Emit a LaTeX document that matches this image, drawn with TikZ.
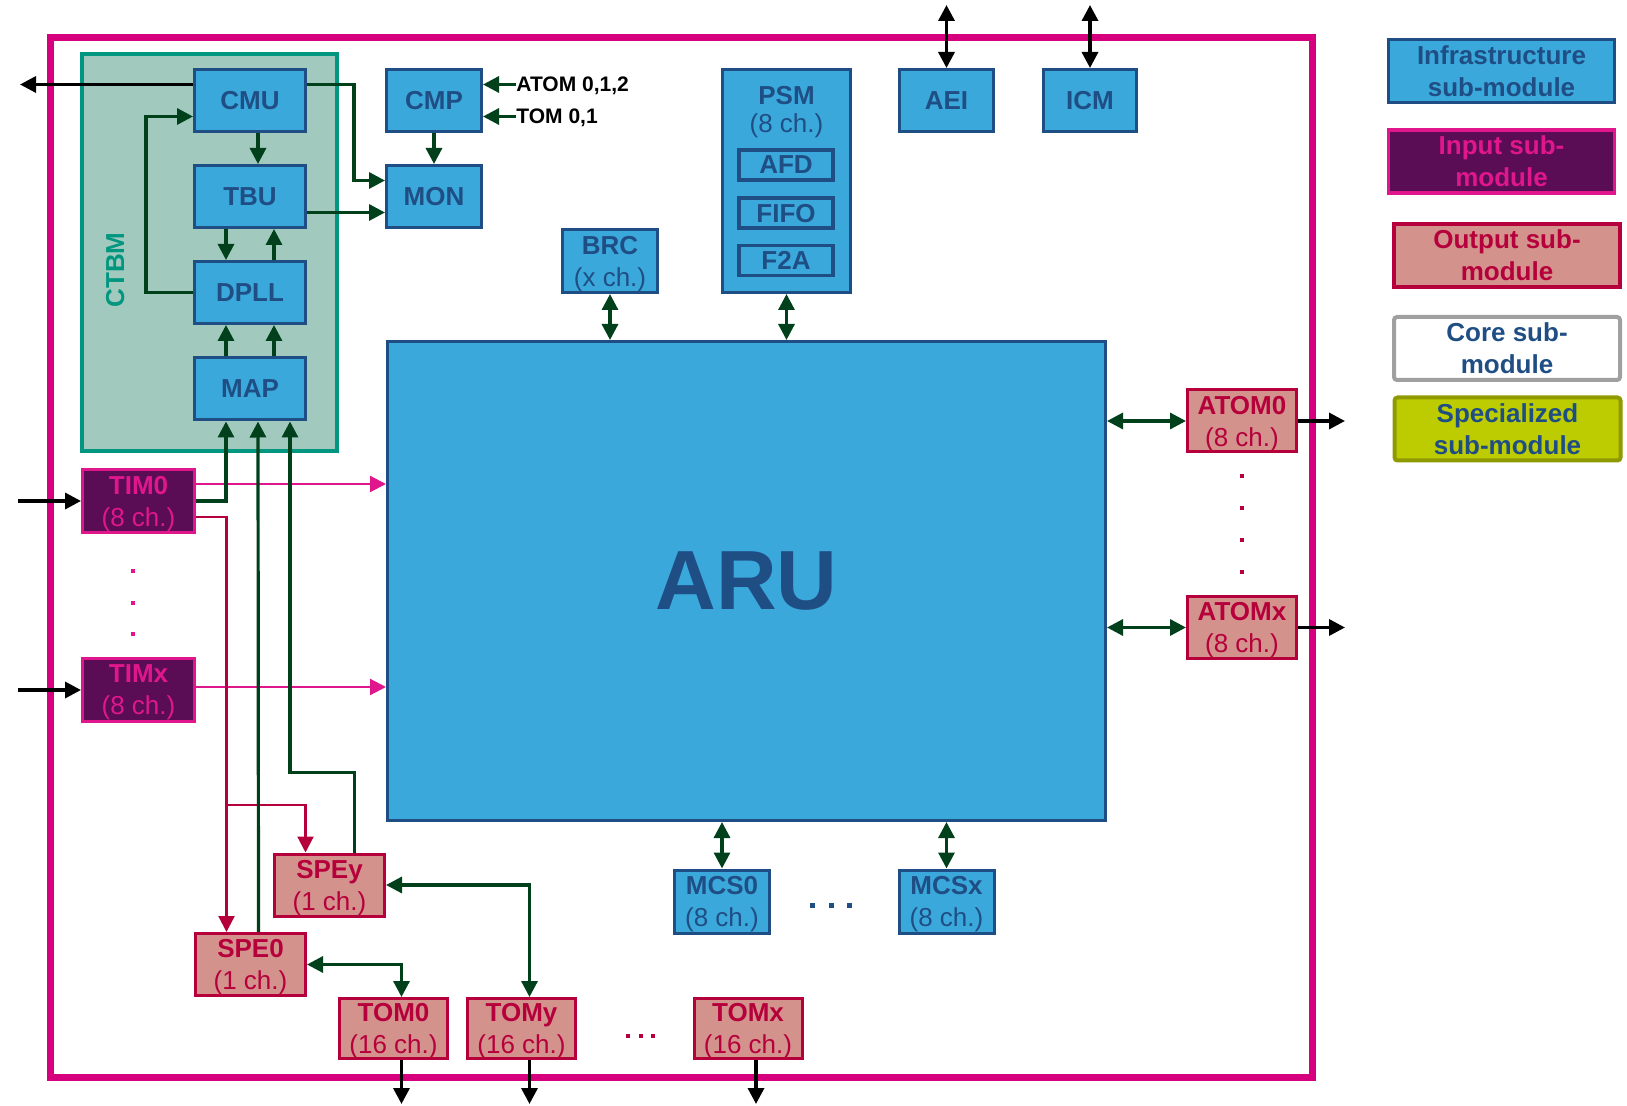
\documentclass[tikz,border=0pt]{standalone}
\usepackage{fontspec}
\setmainfont{Liberation Sans}
\usetikzlibrary{arrows.meta,positioning}
\definecolor{gtmblue}{HTML}{3BA8DC}
\definecolor{gtmnavy}{HTML}{1F4E85}
\definecolor{gtmframe}{HTML}{D6007F}
\definecolor{gtmmag}{HTML}{E0168C}
\definecolor{timfill}{HTML}{5A0C55}
\definecolor{outfill}{HTML}{D4928C}
\definecolor{outred}{HTML}{B5003B}
\definecolor{ctbmfill}{HTML}{A2C9BD}
\definecolor{ctbmgreen}{HTML}{00967F}
\definecolor{arrgreen}{HTML}{00401A}
\definecolor{coregray}{HTML}{A0A0A0}
\definecolor{specfill}{HTML}{BCCC00}
\definecolor{specedge}{HTML}{8F9A00}
\newcommand{\chan}[1]{{\mdseries(#1 ch.)}}
\begin{document}
\begin{tikzpicture}[
  x=0.5pt, y=-0.5pt,
  >={Triangle[length=8pt,width=8pt]},
  every node/.style={align=center, inner sep=0pt, text depth=0pt, font=\bfseries\fontsize{13}{16}\selectfont},
  pinfra/.style={draw=gtmnavy, fill=gtmblue, text=gtmnavy, line width=1.5pt,
                 minimum width=55.5pt, minimum height=31pt},
  pinput/.style={draw=gtmmag, fill=timfill, text=gtmmag, line width=1.5pt,
                 minimum width=56pt, minimum height=31.5pt},
  poutput/.style={draw=outred, fill=outfill, text=outred, line width=1.5pt,
                  minimum width=55pt, minimum height=31pt},
  psub/.style={draw=gtmnavy, fill=gtmblue, text=gtmnavy, line width=1.75pt,
               minimum width=47pt, minimum height=15pt},
  plegend/.style={minimum width=113pt, minimum height=31.5pt, text=gtmnavy},
  garrow/.style={draw=arrgreen, line width=1.6pt, ->},
  gboth/.style={draw=arrgreen, line width=1.6pt, <->},
  barrow/.style={draw=black, line width=1.7pt, ->},
  bboth/.style={draw=black, line width=1.7pt, <->},
  parrow/.style={draw=gtmmag, line width=1.1pt, ->},
  rarrow/.style={draw=outred, line width=1.1pt, ->}
]
\useasboundingbox (0,0) rectangle (1627,1106);
\draw[gtmframe, line width=3.5pt] (50,38) rectangle (1312,1077);

% clock and time base group
\node[draw=ctbmgreen, fill=ctbmfill, line width=2pt, minimum width=127.5pt, minimum height=198.5pt] (ctbm) at (209.5,252.5) {};
\node[rotate=90, text=ctbmgreen] (ctbmlbl) at (115,270) {CTBM};
\node[pinfra] (cmu) at (250,100.5) {CMU};
\node[pinfra] (tbu) at (250,196.5) {TBU};
\node[pinfra] (dpll) at (250,292.5) {DPLL};
\node[pinfra] (map) at (250,389) {MAP};

\node[pinfra, minimum width=47.5pt] (cmp) at (434,100.5) {CMP};
\node[pinfra, minimum width=47.5pt] (mon) at (434,196.5) {MON};
\node[anchor=west, font=\bfseries\fontsize{10.5}{12}\selectfont] (atomlbl) at (516,84.5) {ATOM 0,1,2};
\node[anchor=west, font=\bfseries\fontsize{10.5}{12}\selectfont] (tomlbl) at (516,116.5) {TOM 0,1};

\node[pinfra, minimum width=47.5pt, minimum height=31.5pt] (brc) at (610,261) {BRC\\\chan{x}};
\node[pinfra, minimum width=64pt, minimum height=111.5pt] (psm) at (786.5,181) {};
\node[text=gtmnavy, font=\bfseries\fontsize{13}{14}\selectfont] (psmlbl) at (786.5,109) {PSM\\\chan{8}};
\node[psub] (afd) at (786,165) {AFD};
\node[psub] (fifo) at (786,213) {FIFO};
\node[psub] (f2a) at (786,260.5) {F2A};
\node[pinfra, minimum width=47pt] (aei) at (946.5,100.5) {AEI};
\node[pinfra, minimum width=46.5pt] (icm) at (1090,100.5) {ICM};

\node[pinfra, minimum width=359pt, minimum height=239.5pt, font=\bfseries\fontsize{42}{50}\selectfont] (aru) at (746.5,581) {ARU};

\node[pinput] (tim0) at (138.5,501) {TIM0\\\chan{8}};
\node[pinput] (timx) at (138.5,690) {TIMx\\\chan{8}};
\node[poutput, minimum width=54.5pt] (atom0) at (1242,421) {ATOM0\\\chan{8}};
\node[poutput, minimum width=54.5pt] (atomx) at (1242,627.5) {ATOMx\\\chan{8}};
\node[poutput] (spey) at (329.5,885) {SPEy\\\chan{1}};
\node[poutput] (spe0) at (250.5,964.5) {SPE0\\\chan{1}};
\node[poutput, minimum width=54pt, minimum height=30pt] (tom0) at (393.5,1028.5) {TOM0\\\chan{16}};
\node[poutput, minimum width=54pt, minimum height=30pt] (tomy) at (521.5,1028.5) {TOMy\\\chan{16}};
\node[poutput, minimum width=54pt, minimum height=30pt] (tomx) at (748,1028.5) {TOMx\\\chan{16}};
\node[pinfra, minimum width=47.5pt, minimum height=31.5pt] (mcs0) at (722,901.5) {MCS0\\\chan{8}};
\node[pinfra, minimum width=47.5pt, minimum height=31.5pt] (mcsx) at (946.5,901.5) {MCSx\\\chan{8}};

% legend
\node[plegend, draw=gtmnavy, fill=gtmblue, line width=1.5pt] (leginfra) at (1501.5,71) {Infrastructure\\sub-module};
\node[plegend, draw=gtmmag, fill=timfill, text=gtmmag, line width=1.75pt] (leginput) at (1501.5,161.5) {Input sub-\\module};
\node[plegend, draw=outred, fill=outfill, text=outred, line width=1.75pt] (legoutput) at (1507,255.5) {Output sub-\\module};
\node[plegend, draw=coregray, fill=white, line width=2pt, rounded corners=1.5pt] (legcore) at (1507,348.5) {Core sub-\\module};
\node[plegend, draw=specedge, fill=specfill, line width=2pt, rounded corners=1.5pt] (legspec) at (1507.5,429) {Specialized\\sub-module};

% free ends
\coordinate (cmuout) at (20,84.5);
\coordinate (leftin) at (18,0);
\coordinate (rightout) at (1345,0);
\coordinate (topedge) at (0,5);
\coordinate (bottomedge) at (0,1104);
\coordinate (spebr) at (226.5,805);
\coordinate (t0p) at ([yshift=8.5pt]tim0.east);
\coordinate (t0r) at ([yshift=-8pt]tim0.east);
\coordinate (txp) at ([yshift=1.5pt]timx.east);

% input paths
\draw[parrow] (t0p) -- (t0p -| aru.west);
\draw[parrow] (txp) -- (txp -| aru.west);
\draw[rarrow] (t0r) -| ([xshift=-12pt]spe0.north);
\draw[rarrow] (spebr) -| ([xshift=-12pt]spey.north);
\foreach \t in {tim0,timx}
  \draw[barrow] (\t.west -| leftin) -- (\t.west);

% time base connections
\draw[barrow] ([yshift=8pt]cmu.west) -- (cmuout);
\draw[garrow] ([yshift=8pt]cmu.east) -- ++(47,0) |- ([yshift=8pt]mon.west);
\draw[garrow] ([yshift=-8pt]tbu.east) -- ([yshift=-8pt]mon.west);
\draw[garrow] (cmp.south) -- (mon.north);
\draw[garrow] (atomlbl.west) -- (atomlbl.west -| cmp.east);
\draw[garrow] (tomlbl.west) -- (tomlbl.west -| cmp.east);
\draw[garrow] ([xshift=4pt]cmu.south) -- ([xshift=4pt]tbu.north);
\draw[garrow] ([xshift=-12pt]tbu.south) -- ([xshift=-12pt]dpll.north);
\draw[garrow] ([xshift=12pt]dpll.north) -- ([xshift=12pt]tbu.south);
\draw[garrow] ([xshift=-12pt]map.north) -- ([xshift=-12pt]dpll.south);
\draw[garrow] ([xshift=12pt]map.north) -- ([xshift=12pt]dpll.south);
\draw[garrow] (dpll.west) -- ++(-47,0) |- ([yshift=-8pt]cmu.west);
\draw[garrow] (tim0.east) -| ([xshift=-12pt]map.south);
\draw[garrow] ([xshift=4pt]spe0.north) -- ([xshift=4pt]map.south);
\draw[garrow] ([xshift=12.5pt]spey.north) -- ++(0,-80) -| ([xshift=20pt]map.south);

% ARU routing
\draw[gboth] (brc.south) -- (brc.south |- aru.north);
\draw[gboth] (psm.south) -- (psm.south |- aru.north);
\draw[gboth] (mcs0.north) -- (mcs0.north |- aru.south);
\draw[gboth] (mcsx.north) -- (mcsx.north |- aru.south);
\draw[gboth] (atom0.west -| aru.east) -- (atom0.west);
\draw[gboth] (atomx.west -| aru.east) -- (atomx.west);
\draw[gboth] (spe0.east) -| ([xshift=4pt]tom0.north);
\draw[gboth] (spey.east) -| ([xshift=4pt]tomy.north);
\foreach \m in {aei,icm}
  \draw[bboth] (\m.north) -- (\m.north |- topedge);
\foreach \a in {atom0,atomx}
  \draw[barrow] (\a.east) -- (\a.east -| rightout);
\foreach \t in {tom0,tomy,tomx}
  \draw[barrow] ([xshift=4pt]\t.south) -- ([xshift=4pt]\t.south |- bottomedge);

% dots
\foreach \y in {569,601,632} \fill[gtmmag] (131,\y) rectangle ++(4,4);
\foreach \y in {474,506,538,570} \fill[outred] (1240,\y) rectangle ++(4,4);
\foreach \x in {626,639,651} \fill[outred] (\x,1034) rectangle ++(4,4);
\foreach \x in {810,829,847} \fill[gtmnavy] (\x,903) rectangle ++(5,5);
\end{tikzpicture}
\end{document}
